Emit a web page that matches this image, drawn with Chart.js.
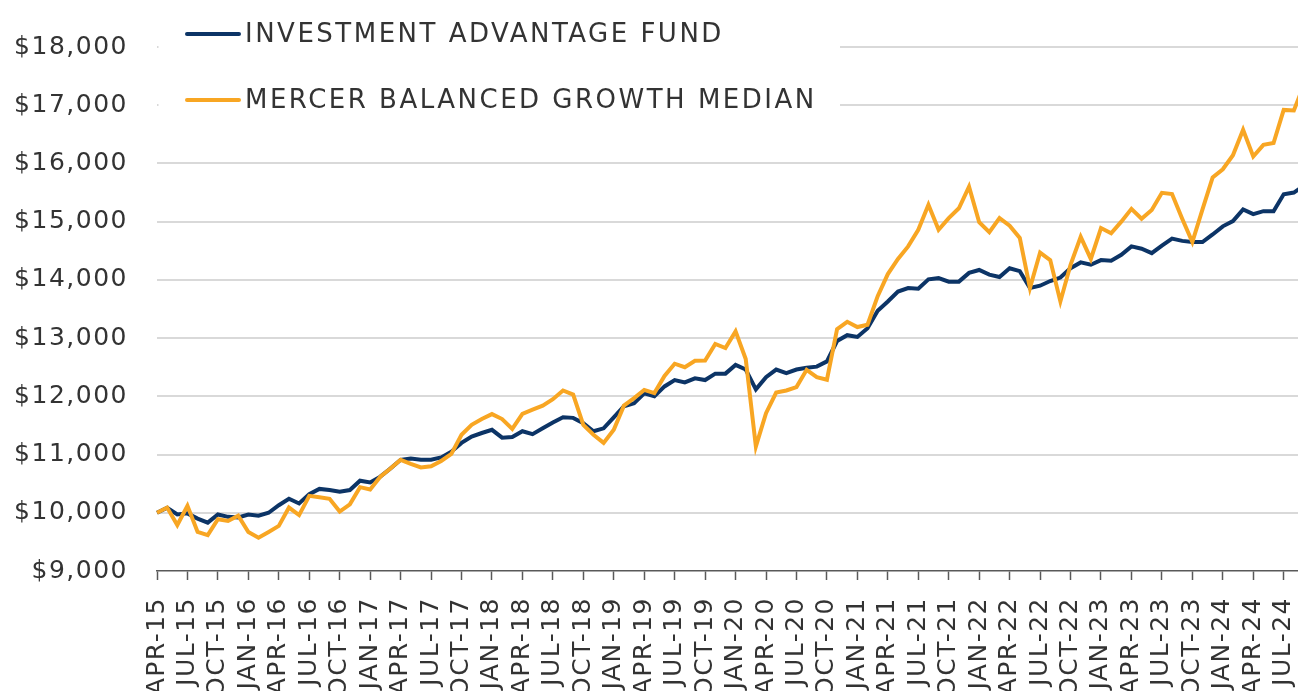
<!DOCTYPE html>
<html><head><meta charset="utf-8">
<script src="https://cdn.jsdelivr.net/npm/chart.js@4/dist/chart.umd.min.js"></script>
<style>
html,body{margin:0;padding:0;background:#fff;overflow:hidden;}
#wrap{width:1304px;height:691px;position:relative;}
</style></head><body>
<div id="wrap"><canvas id="c"></canvas></div>
<script>
const months = [
'APR-15','MAY-15','JUN-15','JUL-15','AUG-15','SEP-15','OCT-15','NOV-15','DEC-15',
'JAN-16','FEB-16','MAR-16','APR-16','MAY-16','JUN-16','JUL-16','AUG-16','SEP-16','OCT-16','NOV-16','DEC-16',
'JAN-17','FEB-17','MAR-17','APR-17','MAY-17','JUN-17','JUL-17','AUG-17','SEP-17','OCT-17','NOV-17','DEC-17',
'JAN-18','FEB-18','MAR-18','APR-18','MAY-18','JUN-18','JUL-18','AUG-18','SEP-18','OCT-18','NOV-18','DEC-18',
'JAN-19','FEB-19','MAR-19','APR-19','MAY-19','JUN-19','JUL-19','AUG-19','SEP-19','OCT-19','NOV-19','DEC-19',
'JAN-20','FEB-20','MAR-20','APR-20','MAY-20','JUN-20','JUL-20','AUG-20','SEP-20','OCT-20','NOV-20','DEC-20',
'JAN-21','FEB-21','MAR-21','APR-21','MAY-21','JUN-21','JUL-21','AUG-21','SEP-21','OCT-21','NOV-21','DEC-21',
'JAN-22','FEB-22','MAR-22','APR-22','MAY-22','JUN-22','JUL-22','AUG-22','SEP-22','OCT-22','NOV-22','DEC-22',
'JAN-23','FEB-23','MAR-23','APR-23','MAY-23','JUN-23','JUL-23','AUG-23','SEP-23','OCT-23','NOV-23','DEC-23',
'JAN-24','FEB-24','MAR-24','APR-24','MAY-24','JUN-24','JUL-24','AUG-24','SEP-24'
];

const fundValues = [
10000,10086,9970,9990,9900,9830,9970,9930,9920,
9970,9950,10000,10130,10240,10160,10320,10410,10390,10360,10390,10550,
10520,10620,10760,10910,10930,10910,10910,10950,11050,11200,11310,11370,
11425,11290,11300,11400,11350,11450,11550,11640,11630,11540,11400,11450,
11640,11830,11880,12050,12000,12170,12280,12240,12310,12280,12390,12390,
12540,12460,12120,12330,12460,12400,12460,12490,12510,12600,12950,13050,
13020,13170,13470,13630,13800,13860,13850,14010,14030,13970,13970,14120,
14170,14090,14050,14200,14150,13860,13900,13980,14040,14200,14300,14260,
14340,14330,14430,14575,14535,14460,14590,14710,14670,14650,14650,14780,
14920,15010,15210,15130,15180,15180,15470,15500,15620
];

const medianValues = [
10000,10090,9790,10120,9670,9615,9890,9860,9950,
9670,9570,9670,9775,10090,9960,10290,10265,10240,10020,10145,10440,
10400,10620,10760,10910,10840,10780,10800,10890,11010,11340,11510,11610,
11695,11610,11440,11700,11770,11840,11950,12100,12030,11510,11340,11200,
11425,11840,11970,12110,12055,12350,12560,12500,12610,12615,12900,12830,
13115,12640,11140,11710,12065,12100,12160,12455,12330,12285,13155,13280,
13190,13230,13720,14100,14360,14575,14860,15290,14860,15060,15230,15600,
14990,14820,15060,14930,14720,13860,14470,14340,13630,14260,14740,14360,
14890,14800,15000,15220,15050,15200,15495,15475,15050,14650,15210,15760,
15900,16140,16580,16120,16320,16350,16920,16910,17350
];

const seriesNames = ['INVESTMENT ADVANTAGE FUND', 'MERCER BALANCED GROWTH MEDIAN'];
const seriesColors = ['#0c3466', '#f8a623'];
const yMin = 9000, yMax = 18000, yStep = 1000;

const FONT = '"DejaVu Sans", "Noto Sans", sans-serif';
const TEXT = '#333333';

const spacingPlugin = {
  id: 'spacing',
  beforeLayout(chart) { chart.ctx.letterSpacing = '1.5px'; },
  beforeDraw(chart) { chart.ctx.letterSpacing = '1.5px'; },
  afterLayout(chart) {
    const xs = chart.scales.x;
    if (xs && !xs._spacedDraw) {
      const orig = xs.draw;
      xs.draw = function (area) {
        const c = this.ctx;
        const prev = c.letterSpacing;
        c.letterSpacing = '3.5px';
        orig.call(this, area);
        c.letterSpacing = prev;
      };
      xs._spacedDraw = true;
    }
  }
};

const boxLegend = {
  id: 'boxLegend',
  afterDatasetsDraw(chart) {
    const ctx = chart.ctx;
    const ca = chart.chartArea;
    ctx.save();
    ctx.letterSpacing = '2.5px';
    ctx.fillStyle = '#ffffff';
    ctx.fillRect(ca.left + 1.5, 0, 840 - ca.left - 1.5, 128);
    chart.data.datasets.forEach((ds, k) => {
      const y = 34 + k * 66;
      ctx.strokeStyle = ds.borderColor;
      ctx.lineWidth = 4;
      ctx.lineCap = 'round';
      ctx.beginPath();
      ctx.moveTo(187, y);
      ctx.lineTo(239, y);
      ctx.stroke();
      ctx.fillStyle = TEXT;
      ctx.font = '26px ' + FONT;
      ctx.textAlign = 'left';
      ctx.textBaseline = 'middle';
      ctx.fillText(ds.label, 245, y + 1);
    });
    ctx.restore();
  }
};

new Chart(document.getElementById('c'), {
  type: 'line',
  data: {
    labels: months,
    datasets: [
      { label: seriesNames[0], data: fundValues, borderColor: seriesColors[0], backgroundColor: seriesColors[0],
        borderWidth: 4, pointRadius: 0, tension: 0, order: 1 },
      { label: seriesNames[1], data: medianValues, borderColor: seriesColors[1], backgroundColor: seriesColors[1],
        borderWidth: 4, pointRadius: 0, tension: 0, order: 0 }
    ]
  },
  options: {
    responsive: true,
    maintainAspectRatio: false,
    animation: false,
    devicePixelRatio: 1,
    layout: { padding: { top: 47, left: 0, right: 0, bottom: 0 } },
    plugins: { legend: { display: false }, tooltip: { enabled: false } },
    scales: {
      x: {
        type: 'category',
        offset: false,
        border: { display: true, color: '#595959', width: 1.5 },
        grid: {
          drawOnChartArea: false,
          drawTicks: true,
          tickLength: 9,
          tickWidth: 1.5,
          tickColor: (c) => (c.index % 3 === 0 ? '#595959' : 'rgba(0,0,0,0)')
        },
        ticks: {
          autoSkip: false,
          minRotation: 90,
          maxRotation: 90,
          padding: 17,
          color: TEXT,
          font: { family: FONT, size: 25 },
          callback: (v, i) => (i % 3 === 0 ? months[i] : '')
        },
        afterFit(scale) { scale.height = 120; scale.paddingLeft = 0; scale.paddingRight = 0; }
      },
      y: {
        min: yMin,
        max: yMax,
        border: { display: false },
        grid: {
          color: (c) => (c.tick && c.tick.value === yMin ? 'rgba(0,0,0,0)' : '#d9d9d9'),
          lineWidth: 2,
          drawTicks: false
        },
        ticks: {
          stepSize: yStep,
          padding: 29,
          color: TEXT,
          font: { family: FONT, size: 25 },
          callback: (v) => '$' + Number(v).toLocaleString('en-US')
        },
        afterFit(scale) { scale.width = 157; scale.paddingTop = 0; scale.paddingBottom = 0; }
      }
    }
  },
  plugins: [spacingPlugin, boxLegend]
});
</script>
</body></html>
